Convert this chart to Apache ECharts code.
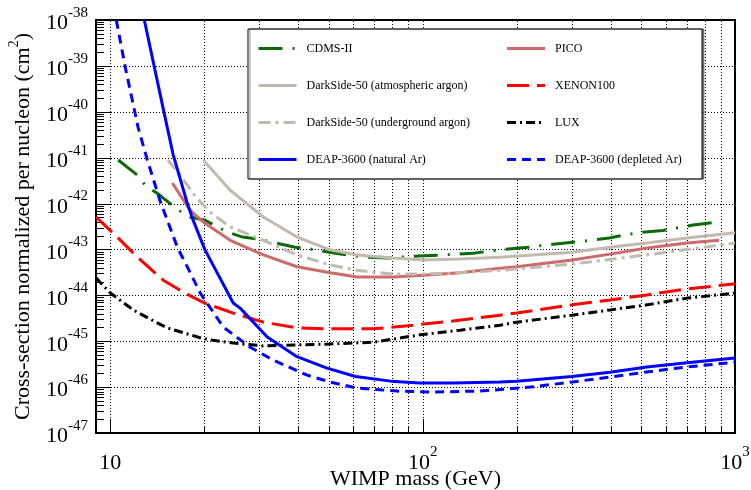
<!DOCTYPE html>
<html><head><meta charset="utf-8">
<script src="https://cdn.jsdelivr.net/npm/echarts@6/dist/echarts.min.js"></script>
<style>html,body{margin:0;padding:0;background:#fff}#c{width:751px;height:490px}</style>
</head><body><div id="c"></div><script>
// ---- data (WIMP mass in GeV, cross-section in cm^2) ----
const cdmsMass  = [10.6,12.2,13.0,14.1,16.5,18.0,20,23.7,26.5,29.5,35.0,39.1,43.7,52.5,64.5,77.5,96.7,116,145,177,218,266,326,395,486,588,734,882];
const cdmsXsec  = [8.9e-42,4.2e-42,2.4e-42,1.7e-42,7.2e-43,5.1e-43,4.4e-43,2.4e-43,1.86e-43,1.7e-43,1.32e-43,1.12e-43,1.02e-43,8.3e-44,6.8e-44,6.5e-44,7.2e-44,7.6e-44,8.3e-44,9.8e-44,1.12e-43,1.32e-43,1.51e-43,1.78e-43,2.3e-43,2.6e-43,3.4e-43,4.0e-43];

const dsAtmMass = [19.85,24.2,30.9,39.6,50.6,61.7,80.4,100.4,131.8,177,301,398,522,702,1000];
const dsAtmXsec = [8.9e-42,1.95e-42,5.1e-43,1.86e-43,9.8e-44,7.6e-44,6.5e-44,5.9e-44,6.2e-44,6.8e-44,8.7e-44,1.12e-43,1.38e-43,1.78e-43,2.3e-43];

const dsUgMass  = [15.3,16.9,18.8,21.05,24.2,30.9,39.6,50.6,61.7,80.4,100.4,131.8,177,301,522,1000];
const dsUgXsec  = [8.9e-42,3.8e-42,1.38e-42,6.2e-43,3.1e-43,1.58e-43,7.6e-44,4.6e-44,3.5e-44,2.9e-44,2.9e-44,3.1e-44,3.5e-44,4.8e-44,7.6e-44,1.38e-43];

const deapNatMass = [12.85,14.8,15.9,17.6,18.4,20.1,24.75,26.1,31.8,39.6,49.4,61,79,98,125,177,200,300,398,522,702,1000];
const deapNatXsec = [1.0e-38,1.1e-40,1.15e-41,1.07e-42,4.4e-43,9.8e-44,6.8e-45,5.2e-45,1.23e-45,4.6e-46,2.6e-46,1.7e-46,1.35e-46,1.23e-46,1.23e-46,1.29e-46,1.35e-46,1.7e-46,2.1e-46,2.75e-46,3.4e-46,4.3e-46];

const picoMass  = [15.8,18.0,20,24.2,30.9,39.6,50.6,61.7,80.4,100.4,131.8,177,200,301,398,522,702,889];
const picoXsec  = [2.8e-42,7.2e-43,3.8e-43,1.58e-43,7.6e-44,4.2e-44,3.1e-44,2.5e-44,2.5e-44,2.75e-44,3.1e-44,3.9e-44,4.2e-44,5.9e-44,7.9e-44,1.07e-43,1.38e-43,1.58e-43];

const xenonMass = [9.0,10.53,12.2,14.78,17.12,20.0,24.75,30.9,39.6,50.6,69.4,93.3,125,177,200,301,398,522,702,1000];
const xenonXsec = [5.1e-43,1.86e-43,6.8e-44,2.14e-44,1.17e-44,6.8e-45,4.1e-45,2.6e-45,1.95e-45,1.86e-45,1.86e-45,2.24e-45,2.75e-45,3.7e-45,4.1e-45,6.2e-45,7.9e-45,1.02e-44,1.38e-44,1.78e-44];

const luxMass   = [9.0,10,11.85,14.14,15.2,20.0,24.75,30.9,39.6,50.6,69.4,98.2,131.8,177,200,301,398,522,702,1000];
const luxXsec   = [2.4e-44,1.12e-44,4.8e-45,2.5e-45,1.95e-45,1.12e-45,9.1e-46,7.9e-46,8.3e-46,8.7e-46,9.5e-46,1.38e-45,1.74e-45,2.24e-45,2.6e-45,3.7e-45,4.8e-45,6.2e-45,8.7e-45,1.12e-44];

const deapDepMass = [10.45,11.17,12.29,13.14,14.45,16.39,18.03,19.41,23.0,28.05,33.2,42.7,50.6,61.7,82.8,105.7,152.8,221,301,398,522,702,1000];
const deapDepXsec = [1.0e-38,9.3e-40,4.4e-41,8.9e-42,1.12e-42,1.12e-43,3.1e-44,1.12e-44,2.04e-45,7.4e-46,3.9e-46,1.82e-46,1.29e-46,9.5e-47,8.2e-47,7.8e-47,8.2e-47,1.0e-46,1.29e-46,1.66e-46,2.14e-46,2.75e-46,3.5e-46];

// axis ranges, grid and tick values
const X_MIN = 9, X_MAX = 1000;
const Y_MIN_EXP = -47, Y_MAX_EXP = -38;          // y axis spans 10^-47 .. 10^-38 cm^2
const xGridVals = [10,20,30,40,50,60,70,80,90,100,200,300,400,500,600,700,800,900];
const yDecadeExps = [-46,-45,-44,-43,-42,-41,-40,-39];
const seriesNames = ['CDMS-II','PICO','DarkSide-50 (atmospheric argon)','XENON100',
  'DarkSide-50 (underground argon)','LUX','DEAP-3600 (natural Ar)','DEAP-3600 (depleted Ar)'];

// ECharts' log scale loses precision with values ~1e-47, so the y axis works in
// units of 10^-47 cm^2 (a pure unit change; labels show the true exponent).
const UNIT = 1e-47;
const toAxis = v => v / UNIT;
const Y_MIN = toAxis(Math.pow(10, Y_MIN_EXP)), Y_MAX = toAxis(Math.pow(10, Y_MAX_EXP));
const zip = (a, b) => a.map((m, i) => [m, toAxis(b[i])]);

const yTicks = [];
for (let e = Y_MIN_EXP; e <= Y_MAX_EXP; e++) {
  for (let k = 1; k <= 9; k++) {
    if (e === Y_MAX_EXP && k > 1) break;
    yTicks.push([X_MIN, toAxis(k * Math.pow(10, e)), k === 1 ? 1 : 0]);
  }
}
const xTicks = [];
[1, 2].forEach(e => { for (let k = 1; k <= 9; k++) xTicks.push([k * Math.pow(10, e), Y_MIN, k === 1 ? 1 : 0]); });
xTicks.push([1000, Y_MIN, 1]);

const FONT = 'Liberation Serif';
const px = v => Math.round(v) + 0.5;

function vGrid(params, api) {
  const x = api.value(0);
  const a = api.coord([x, Y_MIN]), b = api.coord([x, Y_MAX]);
  return {type: 'line', silent: true, shape: {x1: px(a[0]), y1: a[1], x2: px(b[0]), y2: b[1]},
    style: {stroke: '#000', lineWidth: 1, lineDash: [1, 2]}};
}
function hGrid(params, api) {
  const y = api.value(1);
  const a = api.coord([X_MIN, y]), b = api.coord([X_MAX, y]);
  return {type: 'line', silent: true, shape: {x1: a[0], y1: px(a[1]), x2: b[0], y2: px(b[1])},
    style: {stroke: '#000', lineWidth: 1, lineDash: [1, 2]}};
}
function yTick(params, api) {
  const p = api.coord([api.value(0), api.value(1)]);
  const len = api.value(2) ? 15 : 8;
  return {type: 'line', silent: true, shape: {x1: p[0], y1: px(p[1]), x2: p[0] + len, y2: px(p[1])},
    style: {stroke: '#000', lineWidth: 1}};
}
function xTick(params, api) {
  const p = api.coord([api.value(0), api.value(1)]);
  const len = api.value(2) ? 14 : 7;
  return {type: 'line', silent: true, shape: {x1: px(p[0]), y1: p[1], x2: px(p[0]), y2: p[1] - len},
    style: {stroke: '#000', lineWidth: 1}};
}

function expOf(v) {
  const l = Math.log10(v), e = Math.round(l);
  return Math.abs(l - e) < 1e-6 ? e : null;
}

const rich = {
  b: {fontFamily: FONT, fontSize: 22, color: '#000', verticalAlign: 'bottom', padding: [7, 0, 0, 0]},
  s: {fontFamily: FONT, fontSize: 15, color: '#000', verticalAlign: 'top'}
};

function lineSeries(name, data, color, type) {
  return {name, type: 'line', data, symbol: 'none', showSymbol: false, smooth: false, z: 3,
    lineStyle: {color, width: 3, type}, itemStyle: {color}, silent: true};
}

const chart = echarts.init(document.getElementById('c'), null, {renderer: 'canvas'});
chart.setOption({
  animation: false,
  backgroundColor: '#fff',
  grid: {left: 96, right: 16, top: 20, bottom: 57, outerBoundsMode: 'none', containLabel: false,
    show: true, borderColor: '#000', borderWidth: 2, backgroundColor: 'transparent'},
  xAxis: {
    type: 'log', logBase: 10, min: X_MIN, max: X_MAX,
    axisLine: {show: false}, axisTick: {show: false}, splitLine: {show: false},
    axisLabel: {margin: 12, rich, formatter: v => {
      const e = expOf(v); if (e === null) return '';
      return e === 1 ? '{b|10}' : '{b|10}{s|' + e + '}';
    }},
    name: 'WIMP mass (GeV)', nameLocation: 'middle', nameGap: 35, nameMoveOverlap: false,
    nameTextStyle: {fontFamily: FONT, fontSize: 22, color: '#000'}
  },
  yAxis: {
    type: 'log', logBase: 10, min: Y_MIN, max: Y_MAX,
    axisLine: {show: false}, axisTick: {show: false}, splitLine: {show: false},
    axisLabel: {margin: 8, rich, formatter: v => {
      const e = expOf(v); if (e === null) return '';
      return '{b|10}{s|' + (e + Y_MIN_EXP) + '}';
    }},
    name: '{t|Cross-section normalized per nucleon (cm}{u|2}{t|)}', nameLocation: 'middle', nameGap: 62,
    nameTextStyle: {rich: {
      t: {fontFamily: FONT, fontSize: 22, color: '#000', verticalAlign: 'bottom', padding: [5, 0, 0, 0]},
      u: {fontFamily: FONT, fontSize: 14, color: '#000', verticalAlign: 'top'}
    }}
  },
  legend: {
    data: seriesNames.map((n, i) => ({name: n, textStyle: {width: i % 2 === 0 ? 185 : 135}})),
    left: 248, top: 29, width: 470, z: 10,
    padding: [8, 12, 8, 9],
    itemGap: 14, itemWidth: 38, itemHeight: 14,
    backgroundColor: '#fff', borderColor: '#000', borderWidth: 1,
    shadowColor: 'rgba(0,0,0,0.45)', shadowOffsetX: 2, shadowOffsetY: 0, shadowBlur: 0,
    lineStyle: {width: 3},
    itemStyle: {color: 'rgba(0,0,0,0)', borderColor: 'rgba(0,0,0,0)', borderWidth: 0},
    textStyle: {fontFamily: FONT, fontSize: 12, color: '#000', lineHeight: 23, padding: [0, 0, 0, 5]},
    selectedMode: false
  },
  series: [
    {type: 'custom', renderItem: vGrid, data: xGridVals.map(v => [v, Y_MIN]), silent: true, z: 1, clip: false},
    {type: 'custom', renderItem: hGrid, data: yDecadeExps.map(e => [X_MIN, toAxis(Math.pow(10, e))]), silent: true, z: 1, clip: false},
    {type: 'custom', renderItem: yTick, data: yTicks, silent: true, z: 1, clip: false},
    {type: 'custom', renderItem: xTick, data: xTicks, silent: true, z: 1, clip: false},
    lineSeries('CDMS-II', zip(cdmsMass, cdmsXsec), '#0b6b0b', [24, 10, 2, 10]),
    lineSeries('PICO', zip(picoMass, picoXsec), '#cd6a6a', 'solid'),
    lineSeries('DarkSide-50 (atmospheric argon)', zip(dsAtmMass, dsAtmXsec), '#c2b9af', 'solid'),
    lineSeries('XENON100', zip(xenonMass, xenonXsec), '#ff0000', [22, 8]),
    lineSeries('DarkSide-50 (underground argon)', zip(dsUgMass, dsUgXsec), '#c2b9af', [12, 5, 3, 5]),
    lineSeries('LUX', zip(luxMass, luxXsec), '#000000', [9, 4, 2, 4]),
    lineSeries('DEAP-3600 (natural Ar)', zip(deapNatMass, deapNatXsec), '#0000ff', 'solid'),
    lineSeries('DEAP-3600 (depleted Ar)', zip(deapDepMass, deapDepXsec), '#0000ff', [9, 6])
  ]
});
</script></body></html>
